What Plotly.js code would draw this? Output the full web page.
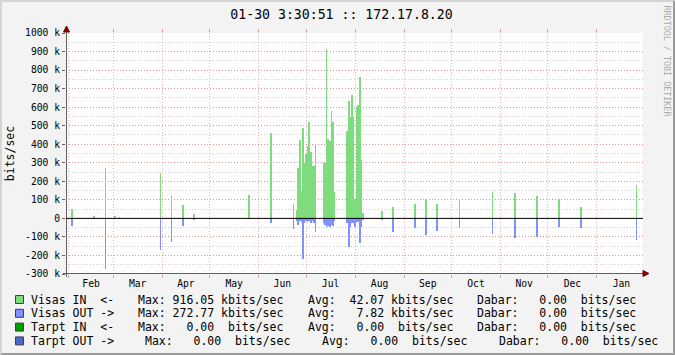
<!DOCTYPE html>
<html><head><meta charset="utf-8">
<script src="https://cdn.plot.ly/plotly-3.0.1.min.js"></script>
<style>
html,body{margin:0;padding:0;background:#f3f3f3;}
#wrap{position:relative;width:675px;height:355px;overflow:hidden;}
#chart{width:675px;height:355px;}
#frame{position:absolute;left:0;top:0;width:675px;height:355px;box-sizing:border-box;border-top:2px solid #d4d4d4;border-left:2px solid #d4d4d4;border-right:2px solid #9c9c9c;border-bottom:2px solid #9c9c9c;pointer-events:none;}
</style></head><body>
<div id="wrap"><div id="chart"></div><div id="frame"></div></div>
<script>
// ---- data ----
const titleText = "01-30 3:30:51 :: 172.17.8.20";
const rangeStart = "2009-01-30 03:30:51";
const rangeEnd = "2010-01-30 03:30:51";
const dates = [
  "2009-02-03","2009-02-17","2009-02-24","2009-03-02","2009-03-05","2009-03-31",
  "2009-04-07","2009-04-14","2009-04-21","2009-05-26","2009-06-09","2009-06-23",
  "2009-06-25","2009-06-26","2009-06-27","2009-06-28","2009-06-29","2009-06-30",
  "2009-07-01","2009-07-02","2009-07-03","2009-07-04","2009-07-05","2009-07-06","2009-07-07",
  "2009-07-12","2009-07-13","2009-07-14","2009-07-15","2009-07-16","2009-07-17","2009-07-18","2009-07-19",
  "2009-07-27","2009-07-28","2009-07-29","2009-07-30","2009-07-31","2009-08-01",
  "2009-08-02","2009-08-03","2009-08-04","2009-08-05","2009-08-06",
  "2009-08-18","2009-08-25","2009-09-08","2009-09-15","2009-09-22","2009-10-06",
  "2009-10-27","2009-11-10","2009-11-24","2009-12-08","2009-12-22","2010-01-26"
];
// kbits/sec
const visasIn = [
  50,14,270,12,7,245,
  120,72,23,126,460,78,
  45,272,423,148,490,300,
  350,390,522,360,280,280,402,
  300,300,916.05,428,420,580,520,142,
  472,634,545,663,549,104,
  600,610,760,315,29,
  39,61,79,104,79,104,
  144,138,122,104,61,182
];
const visasOut = [
  40,0,272.77,0,0,170,
  126,40,9,0,27,58,
  15,36,15,20,218,27,
  15,20,15,27,15,27,72,
  27,35,45,40,49,35,40,15,
  27,153,45,27,27,45,
  20,20,132,49,10,
  9,72,53,90,68,53,
  83,106,101,45,53,117
];
const yTickVals = [-300,-200,-100,0,100,200,300,400,500,600,700,800,900,1000];
const yTickText = ["-300 k","-200 k","-100 k","0","100 k","200 k","300 k","400 k","500 k","600 k","700 k","800 k","900 k","1000 k"];
const legendNames = ["Visas IN  <-","Visas OUT ->","Tarpt IN  <-","Tarpt OUT ->"];
const legendMax = ["Max: 916.05 kbits/sec","Max: 272.77 kbits/sec","Max:   0.00  bits/sec","Max:   0.00  bits/sec"];
const legendAvg = ["Avg:  42.07 kbits/sec","Avg:   7.82 kbits/sec","Avg:   0.00  bits/sec","Avg:   0.00  bits/sec"];
const legendDabar = ["Dabar:   0.00  bits/sec","Dabar:   0.00  bits/sec","Dabar:   0.00  bits/sec","Dabar:   0.00  bits/sec"];
const legendColors = ["#7edc7e","#8090ff","#00a000","#4a68c8"];

// ---- layout helpers ----
const L = 66, R = 32, T = 33, B = 81, W = 675, H = 355;
const PW = W - L - R, PH = H - T - B;
const px = v => (v - L) / PW;
const py = v => (H - B - v) / PH;
const mono = "DejaVu Sans Mono, monospace";

const traceIn = {
  type: "bar", x: dates, y: visasIn, width: 86400000,
  marker: {color: legendColors[0], line: {width: 0}}, name: "Visas IN"
};
const traceOut = {
  type: "bar", x: dates, y: visasOut.map(v => -v), width: 86400000,
  marker: {color: legendColors[1], line: {width: 0}}, name: "Visas OUT"
};

const shapes = [];
const annotations = [];
// axis lines
shapes.push({type:"line", xref:"paper", yref:"paper", x0:px(66.5), x1:px(66.5), y0:py(277), y1:py(29), line:{color:"#606060", width:1}});
shapes.push({type:"line", xref:"paper", yref:"paper", x0:px(63), x1:px(645), y0:py(273.5), y1:py(273.5), line:{color:"#606060", width:1}});
// arrows
shapes.push({type:"path", xref:"paper", yref:"paper", fillcolor:"#7f0000", line:{color:"#7f0000", width:1},
  path:`M ${px(63.5)},${py(32)} L ${px(69.5)},${py(32)} L ${px(66.5)},${py(26)} Z`});
shapes.push({type:"path", xref:"paper", yref:"paper", fillcolor:"#7f0000", line:{color:"#7f0000", width:1},
  path:`M ${px(643)},${py(270.5)} L ${px(643)},${py(276.5)} L ${px(649)},${py(273.5)} Z`});
// zero rule
shapes.push({type:"line", xref:"paper", yref:"y", x0:0, x1:1, y0:0, y1:0, line:{color:"#000000", width:1}});

// legend
const rowY = [299.5, 313.3, 327.1, 340.9];
const colX = [[31,137.8,307.8,477],[31,137.8,307.8,477],[31,137.8,307.8,477],[31,145,322,498.5]];
const nb = s => s.replace(/ /g, "\u00a0");
for (let i = 0; i < 4; i++) {
  shapes.push({type:"rect", xref:"paper", yref:"paper", x0:px(15.5), x1:px(23.5), y0:py(rowY[i]-4), y1:py(rowY[i]+4),
    fillcolor:legendColors[i], line:{color:"#404040", width:1}});
  const parts = [legendNames[i], legendMax[i], legendAvg[i], legendDabar[i]];
  parts.forEach((t, j) => annotations.push({
    xref:"paper", yref:"paper", x:px(colX[i][j]), y:py(rowY[i]), xanchor:"left", yanchor:"middle",
    text:nb(t), showarrow:false, borderpad:0, borderwidth:0,
    font:{family:mono, size:11.5, color:"#000"}
  }));
}
// watermark
annotations.push({xref:"paper", yref:"paper", x:px(666.5), y:py(61), xanchor:"center", yanchor:"middle",
  text:"RRDTOOL / TOBI OETIKER", textangle:90, showarrow:false, font:{family:mono, size:8.4, color:"#aaaaaa"}});

const layout = {
  width: W, height: H,
  margin: {l:L, r:R, t:T, b:B, pad:0},
  paper_bgcolor: "#f3f3f3", plot_bgcolor: "#ffffff",
  font: {family: mono, color: "#000"},
  showlegend: false, barmode: "overlay", bargap: 0,
  title: {text: titleText, font:{family:mono, size:13.2, color:"#000"},
    x: 341.5/W, xref:"container", xanchor:"center", y: 1 - 14/H, yref:"container", yanchor:"middle"},
  xaxis: {
    type:"date", range:[rangeStart, rangeEnd], dtick:"M1", tick0:"2009-01-01",
    ticklabelmode:"period", tickformat:"%b",
    showgrid:true, gridcolor:"rgba(222,80,80,0.42)", griddash:"1px,2px", gridwidth:1,
    ticks:"outside", ticklen:3, tickcolor:"rgba(222,80,80,0.55)", mirror:"ticks",
    ticklabelstandoff:-3,
    showline:false, zeroline:false, tickfont:{family:mono, size:9.7, color:"#000"}
  },
  yaxis: {
    range:[-300, 1000], tickvals:yTickVals, ticktext:yTickText,
    showgrid:true, gridcolor:"rgba(222,80,80,0.45)", griddash:"1px,2px", gridwidth:1,
    minor:{dtick:50, tick0:0, showgrid:true, gridcolor:"rgba(143,143,143,0.45)", griddash:"1px,2px", ticks:""},
    ticks:"outside", ticklen:3, tickcolor:"#606060",
    showline:false, zeroline:false, tickfont:{family:mono, size:9.7, color:"#000"},
    title:{text:"bits/sec", font:{family:mono, size:11.5, color:"#000"}, standoff:8}
  },
  shapes: shapes, annotations: annotations
};
Plotly.newPlot("chart", [traceIn, traceOut], layout, {staticPlot:true, displayModeBar:false});
</script>
</body></html>
